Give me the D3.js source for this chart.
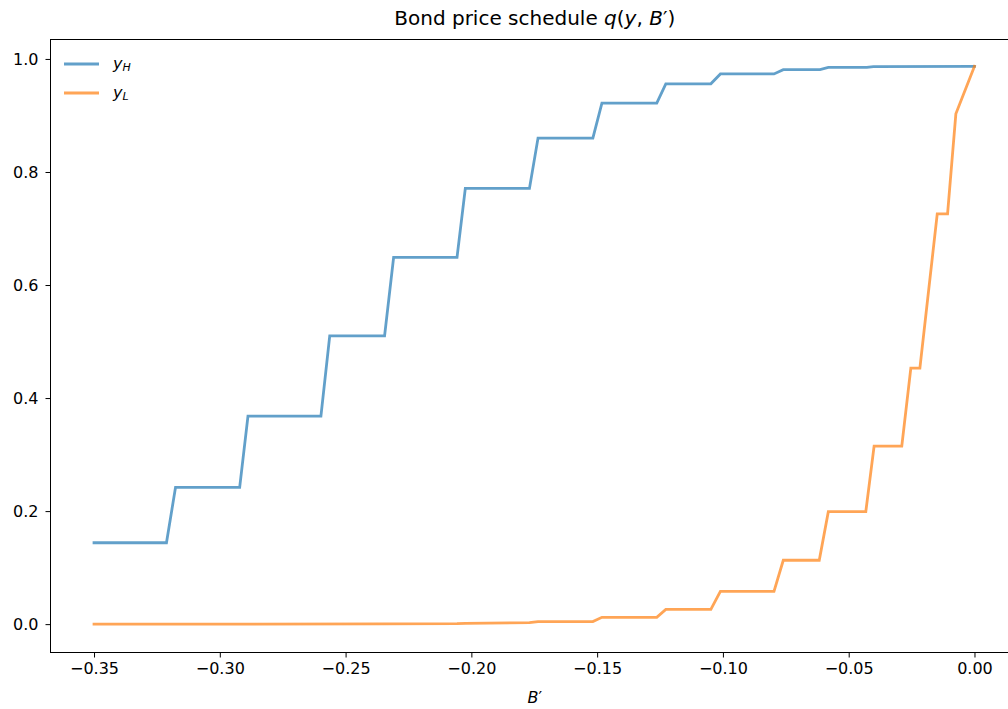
<!DOCTYPE html>
<html><head><meta charset="utf-8">
<script src="https://cdn.jsdelivr.net/npm/d3@7"></script>
<style>
body{margin:0;background:#fff}
svg{display:block}
text{font-family:"DejaVu Sans",sans-serif;fill:#000}
</style></head>
<body>
<svg id="chart" width="1008" height="709"></svg>
<script>
// ---- data ----
const seriesNames = ["y_H", "y_L"];
const xTicks = [-0.35, -0.30, -0.25, -0.20, -0.15, -0.10, -0.05, 0.00];
const yTicks = [0.0, 0.2, 0.4, 0.6, 0.8, 1.0];

const bH = [-0.35, -0.3212, -0.3176, -0.2921, -0.2888, -0.2598, -0.2563, -0.2345, -0.2309,
  -0.2057, -0.2024, -0.1769, -0.1735, -0.1517, -0.1481, -0.1263, -0.1227, -0.1048, -0.1010,
  -0.0797, -0.0760, -0.0614, -0.0581, -0.0428, -0.0402, 0.0];
const qH = [0.144, 0.144, 0.242, 0.242, 0.368, 0.368, 0.510, 0.510, 0.649,
  0.649, 0.771, 0.771, 0.860, 0.860, 0.922, 0.922, 0.956, 0.956, 0.9735,
  0.9735, 0.981, 0.981, 0.985, 0.985, 0.9864, 0.9868];

const bL = [-0.35, -0.2345, -0.2057, -0.2024, -0.1769, -0.1735, -0.1517, -0.1481, -0.1263,
  -0.1227, -0.1048, -0.1010, -0.0797, -0.0760, -0.0617, -0.0581, -0.0432, -0.0399,
  -0.0289, -0.0253, -0.0217, -0.0148, -0.0107, -0.0074, 0.0];
const qL = [0.0, 0.0003, 0.0008, 0.0015, 0.0025, 0.0045, 0.0045, 0.012, 0.012,
  0.026, 0.026, 0.058, 0.058, 0.113, 0.113, 0.199, 0.199, 0.315,
  0.315, 0.453, 0.453, 0.726, 0.726, 0.903, 0.9868];

// ---- layout ----
const svg = d3.select("#chart");
const L = 50.5, R = 1019, T = 39.5, B = 652.5;
const x = d3.scaleLinear().domain([-0.3675, 0.0175]).range([50, 1018.5]);
const y = d3.scaleLinear().domain([-0.0493, 1.0353]).range([652, 39]);
const colors = ["#1f77b4", "#ff7f0e"];

svg.append("clipPath").attr("id", "clip").append("rect")
  .attr("x", L).attr("y", T).attr("width", R - L).attr("height", B - T);

const line = d3.line().x(d => x(d[0])).y(d => y(d[1]));
const series = [bH.map((b, i) => [b, qH[i]]), bL.map((b, i) => [b, qL[i]])];

const plot = svg.append("g").attr("clip-path", "url(#clip)");
series.forEach((s, i) => {
  plot.append("path").datum(s)
    .attr("d", line)
    .attr("fill", "none")
    .attr("stroke", colors[i])
    .attr("stroke-opacity", 0.7)
    .attr("stroke-width", 2.8)
    .attr("stroke-linejoin", "miter")
    .attr("stroke-linecap", "square");
});

// frame
svg.append("rect").attr("x", L).attr("y", T).attr("width", R - L).attr("height", B - T)
  .attr("fill", "none").attr("stroke", "#000").attr("stroke-width", 1);

const fmt = v => (v < 0 ? "\u2212" : "") + Math.abs(v).toFixed(2);
const fmtY = v => v.toFixed(1);

// x axis
const xa = svg.append("g").attr("transform", `translate(0,${B})`)
  .call(d3.axisBottom(x).tickValues(xTicks).tickFormat(fmt).tickSize(5).tickPadding(5));
xa.select(".domain").remove();
xa.selectAll("line").attr("stroke", "#000");
xa.selectAll("text").attr("font-size", 16).attr("fill", "#000").attr("font-family", "DejaVu Sans");

// y axis
const ya = svg.append("g").attr("transform", `translate(${L},0)`)
  .call(d3.axisLeft(y).tickValues(yTicks).tickFormat(fmtY).tickSize(5).tickPadding(7));
ya.select(".domain").remove();
ya.selectAll("line").attr("stroke", "#000");
ya.selectAll("text").attr("font-size", 16).attr("fill", "#000").attr("font-family", "DejaVu Sans");

// title
const title = svg.append("text").attr("x", (L + R) / 2).attr("y", 25)
  .attr("text-anchor", "middle").attr("font-size", 20);
title.append("tspan").text("Bond price schedule ");
title.append("tspan").attr("font-style", "italic").text("q");
title.append("tspan").text("(");
title.append("tspan").attr("font-style", "italic").text("y");
title.append("tspan").text(", ");
title.append("tspan").attr("font-style", "italic").text("B");
title.append("tspan").text("\u2032)");

// x label
const xl = svg.append("text").attr("x", (L + R) / 2).attr("y", 703)
  .attr("text-anchor", "middle").attr("font-size", 16);
xl.append("tspan").attr("font-style", "italic").text("B");
xl.append("tspan").text("\u2032");

// legend
const leg = svg.append("g");
seriesNames.forEach((name, i) => {
  const ly = 64 + i * 29;
  leg.append("line").attr("x1", 64).attr("x2", 99).attr("y1", ly).attr("y2", ly)
    .attr("stroke", colors[i]).attr("stroke-opacity", 0.7).attr("stroke-width", 2.8);
  const parts = name.split("_");
  const t = leg.append("text").attr("x", 113).attr("y", ly + 5).attr("font-size", 16);
  t.append("tspan").attr("font-style", "italic").text(parts[0]);
  t.append("tspan").attr("font-style", "italic").attr("font-size", 11).attr("dy", 2).text(parts[1]);
});
</script>
</body></html>
